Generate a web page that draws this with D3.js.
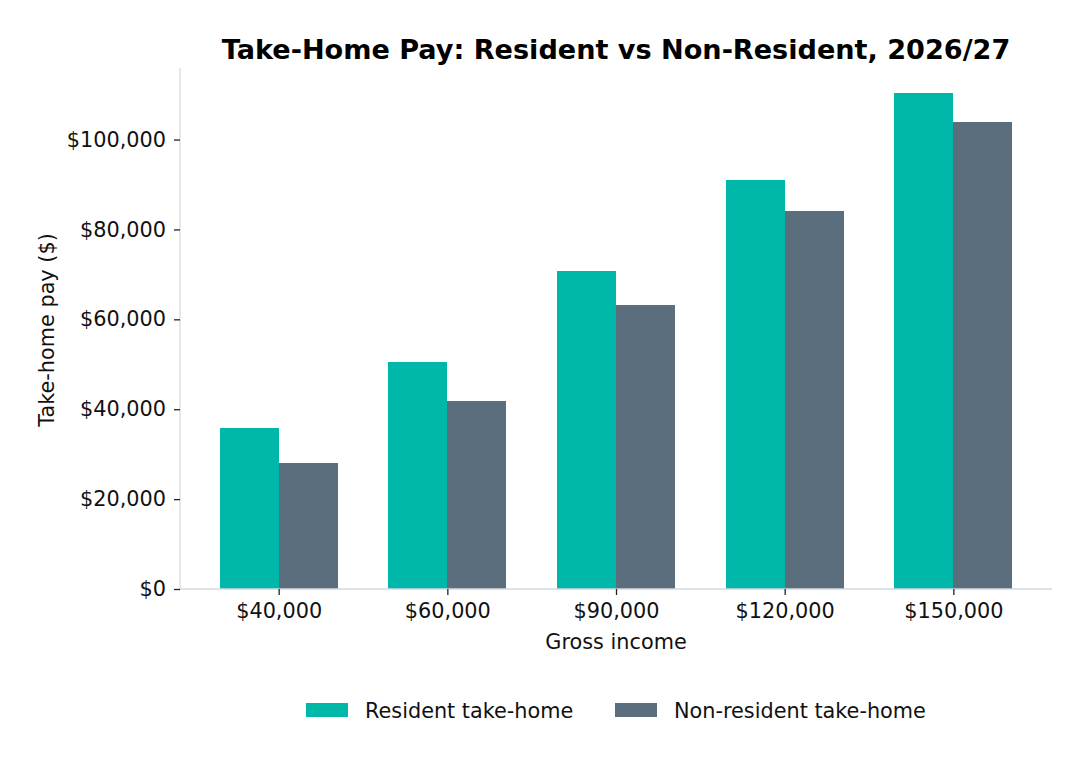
<!DOCTYPE html>
<html><head><meta charset="utf-8">
<script src="https://cdn.jsdelivr.net/npm/d3@7"></script>
<style>
body{margin:0;background:#fff;}
svg{display:block;font-family:"DejaVu Sans",sans-serif;}
</style></head>
<body><svg id="c" width="1089" height="767"></svg>
<script>
const categories = ["$40,000","$60,000","$90,000","$120,000","$150,000"];
const residentTakeHome = [35900, 50400, 70700, 91000, 110400];
const nonResidentTakeHome = [28100, 41900, 63100, 84100, 103900];
const yTicks = [0, 20000, 40000, 60000, 80000, 100000];
const seriesNames = ["Resident take-home","Non-resident take-home"];
const colors = ["#00b8a9","#5b6e7e"];

const svg = d3.select("#c");
const L=180, R=1052, T=68, B=589;
const bw = 0.35;
const FS = "20.8px";
const x = d3.scaleLinear().domain([-0.585, 4.585]).range([L, R]);
const ymax = d3.max(residentTakeHome.concat(nonResidentTakeHome))*1.05;
const y = d3.scaleLinear().domain([0, ymax]).range([B, T]);
const fmt = d3.format("$,");

const series=[residentTakeHome, nonResidentTakeHome];
series.forEach((vals,si)=>{
  svg.append("g").selectAll("rect").data(vals).join("rect")
    .attr("x",(d,i)=>x(i + (si===0 ? -bw : 0)))
    .attr("width",(d,i)=>x(i+bw)-x(i))
    .attr("y",d=>y(d))
    .attr("height",d=>B-y(d))
    .attr("shape-rendering","crispEdges")
    .attr("fill",colors[si]);
});

// y axis
const ya = svg.append("g").attr("transform",`translate(${L},0)`)
  .call(d3.axisLeft(y).tickValues(yTicks).tickFormat(fmt).tickSize(6).tickPadding(8));
ya.attr("font-family","DejaVu Sans").attr("font-size",FS);
ya.select(".domain").attr("stroke","#d5d9e0").attr("stroke-width",1.3).attr("d",`M0,${T}V${B}`);
ya.selectAll(".tick line").attr("stroke","#222").attr("stroke-width",1.3);
ya.selectAll(".tick text").attr("fill","#111");

// x axis
const xa = svg.append("g").attr("transform",`translate(0,${B})`)
  .call(d3.axisBottom(x).tickValues(d3.range(categories.length)).tickFormat(i=>categories[i]).tickSize(6).tickPadding(8));
xa.attr("font-family","DejaVu Sans").attr("font-size",FS);
xa.select(".domain").attr("stroke","#d5d9e0").attr("stroke-width",1.3).attr("d",`M${L},0H${R}`);
xa.selectAll(".tick line").attr("stroke","#222").attr("stroke-width",1.3);
xa.selectAll(".tick text").attr("fill","#111");

// labels
svg.append("text").attr("x",616).attr("y",59).attr("text-anchor","middle")
  .attr("font-size","27.1px").attr("font-weight","bold").attr("fill","#000")
  .text("Take-Home Pay: Resident vs Non-Resident, 2026/27");
svg.append("text").attr("x",616).attr("y",649).attr("text-anchor","middle")
  .attr("font-size",FS).attr("fill","#111").text("Gross income");
svg.append("text").attr("transform","translate(54,330) rotate(-90)").attr("text-anchor","middle")
  .attr("font-size",FS).attr("fill","#111").text("Take-home pay ($)");

// legend
const legX=[306,615];
seriesNames.forEach((n,i)=>{
  svg.append("rect").attr("x",legX[i]).attr("y",703).attr("width",42).attr("height",14).attr("fill",colors[i]);
  svg.append("text").attr("x",legX[i]+59).attr("y",718).attr("font-size",FS).attr("fill","#111").text(n);
});
</script></body></html>
